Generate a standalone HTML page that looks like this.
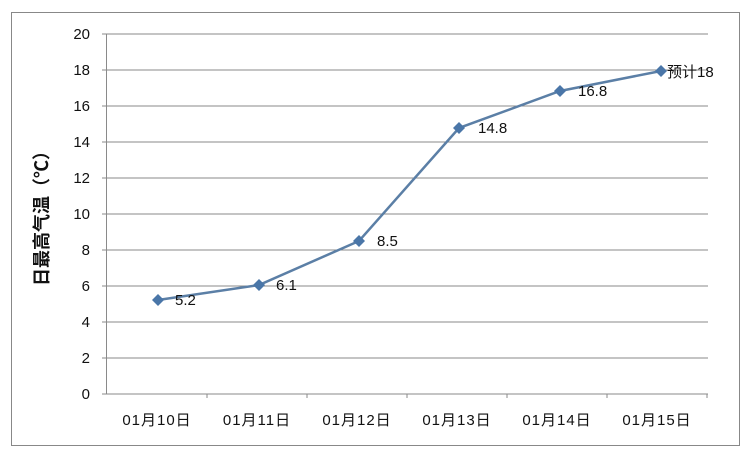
<!DOCTYPE html><html><head><meta charset="utf-8"><style>body{margin:0;background:#fff}</style></head><body>
<svg width="750" height="457" xmlns="http://www.w3.org/2000/svg" style="font-family:'Liberation Sans','Noto Sans CJK SC',sans-serif">
<rect x="11.5" y="12.5" width="728" height="433" fill="#fff" stroke="#888" stroke-width="1"/>
<g stroke="#8a8a8a" stroke-width="1">
<line x1="102" y1="34" x2="708" y2="34"/><line x1="102" y1="70" x2="708" y2="70"/><line x1="102" y1="106" x2="708" y2="106"/><line x1="102" y1="142" x2="708" y2="142"/><line x1="102" y1="178" x2="708" y2="178"/><line x1="102" y1="214" x2="708" y2="214"/><line x1="102" y1="250" x2="708" y2="250"/><line x1="102" y1="286" x2="708" y2="286"/><line x1="102" y1="322" x2="708" y2="322"/><line x1="102" y1="358" x2="708" y2="358"/><line x1="102" y1="394" x2="708" y2="394"/>
<line x1="106.5" y1="34" x2="106.5" y2="394"/>
<line x1="207" y1="394" x2="207" y2="398"/><line x1="307" y1="394" x2="307" y2="398"/><line x1="407" y1="394" x2="407" y2="398"/><line x1="507" y1="394" x2="507" y2="398"/><line x1="607" y1="394" x2="607" y2="398"/><line x1="707" y1="394" x2="707" y2="398"/>
</g>
<g font-size="15" fill="#111" text-anchor="end">
<text x="90" y="39">20</text><text x="90" y="75">18</text><text x="90" y="111">16</text><text x="90" y="147">14</text><text x="90" y="183">12</text><text x="90" y="219">10</text><text x="90" y="255">8</text><text x="90" y="291">6</text><text x="90" y="327">4</text><text x="90" y="363">2</text><text x="90" y="399">0</text>
</g>
<g font-size="15" fill="#111" text-anchor="middle" letter-spacing="1">
<text x="157" y="425">01月10日</text><text x="257" y="425">01月11日</text><text x="357" y="425">01月12日</text><text x="457" y="425">01月13日</text><text x="557" y="425">01月14日</text><text x="657" y="425">01月15日</text>
</g>
<text transform="translate(48,214) rotate(-90)" font-size="18" font-weight="bold" text-anchor="middle" fill="#111">日最高气温（℃）</text>
<polyline points="158,300 259,285 359,241 459,128 560,91 661,71" fill="none" stroke="#5b7fa6" stroke-width="2.5"/>
<g fill="#4a76a8">
<path d="M158,294 l6,6 -6,6 -6,-6z"/><path d="M259,279 l6,6 -6,6 -6,-6z"/><path d="M359,235 l6,6 -6,6 -6,-6z"/><path d="M459,122 l6,6 -6,6 -6,-6z"/><path d="M560,85 l6,6 -6,6 -6,-6z"/><path d="M661,65 l6,6 -6,6 -6,-6z"/>
</g>
<g font-size="15" fill="#111">
<text x="175" y="305">5.2</text><text x="276" y="290">6.1</text><text x="377" y="246">8.5</text><text x="478" y="133">14.8</text><text x="578" y="96">16.8</text><text x="667" y="77">预计18</text>
</g>
</svg>
</body></html>
